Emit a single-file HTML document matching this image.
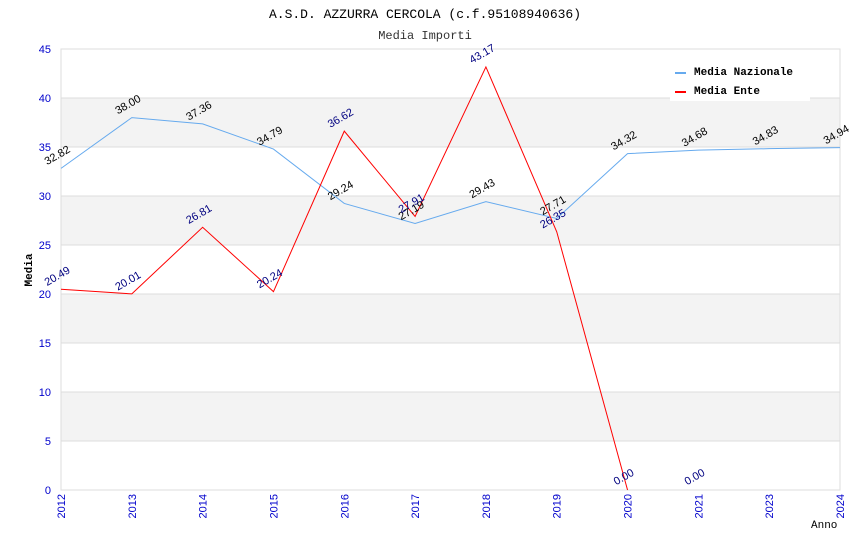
<!DOCTYPE html>
<html><head><meta charset="utf-8"><style>
body{margin:0;background:#fff;}
svg{display:block;font-family:"Liberation Mono","DejaVu Sans Mono",monospace;}
.s{font-family:"Liberation Sans","DejaVu Sans",sans-serif;}
</style></head><body>
<svg id="chart" width="850" height="550" xmlns="http://www.w3.org/2000/svg">
<text x="425" y="18" text-anchor="middle" font-size="13" fill="#000">A.S.D. AZZURRA CERCOLA (c.f.95108940636)</text>
<text x="425" y="39" text-anchor="middle" font-size="12" fill="#333">Media Importi</text>
<g id="bands"></g><g id="grid"></g><g id="axes"></g><g id="series"></g><g id="labels"></g>
<rect x="670" y="50" width="140" height="51" fill="#fff"/>
<line x1="675" y1="73" x2="686" y2="73" stroke="#66aaee" stroke-width="2"/>
<text x="694" y="75" font-size="11" font-weight="bold">Media Nazionale</text>
<line x1="675" y1="92" x2="686" y2="92" stroke="#ff0000" stroke-width="2"/>
<text x="694" y="94" font-size="11" font-weight="bold">Media Ente</text>
<text x="32" y="270" font-size="11" font-weight="bold" transform="rotate(-90 32 270)" text-anchor="middle">Media</text>
<text x="811" y="528" font-size="11">Anno</text>
</svg>
<script>
const categories=["2012","2013","2014","2015","2016","2017","2018","2019","2020","2021","2023","2024"];
const nazionale=[32.82,38.00,37.36,34.79,29.24,27.19,29.43,27.71,34.32,34.68,34.83,34.94];
const ente=[20.49,20.01,26.81,20.24,36.62,27.91,43.17,26.35,0.00];
const enteExtraLabels=[[9,0.00]];
const yTicks=[0,5,10,15,20,25,30,35,40,45];
const NS="http://www.w3.org/2000/svg";
const L=61,R=840,T=49,B=490,YMAX=45;
const xs=i=>L+i*(R-L)/(categories.length-1);
const ys=v=>B-v*(B-T)/YMAX;
function mk(tag,attrs,parent,text){const e=document.createElementNS(NS,tag);for(const k in attrs)e.setAttribute(k,attrs[k]);if(text!==undefined)e.textContent=text;document.getElementById(parent).appendChild(e);return e;}
for(let i=0;i<yTicks.length-1;i++){
  if(i%2===1){const r=mk('rect',{x:L,y:ys(yTicks[i+1]),width:R-L,height:ys(yTicks[i])-ys(yTicks[i+1]),fill:'#f3f3f3'},'bands');
  
  }
}
yTicks.forEach(v=>{
  const g=mk('line',{x1:L,x2:R,y1:ys(v),y2:ys(v),stroke:'#dddddd'},'grid');
  
  
  const t=mk('text',{x:L-10,y:ys(v)+4,'text-anchor':'end','font-size':11,fill:'#0000cc',class:'s'},'axes',String(v));
  
  
});
const border=mk('rect',{x:L,y:T,width:R-L,height:B-T,fill:'none',stroke:'#dddddd'},'axes');


categories.forEach((c,i)=>{
  const x=xs(i);
  const t=mk('text',{x:x+4,y:B+4,'text-anchor':'end','font-size':11,fill:'#0000cc',class:'s',transform:`rotate(-90 ${x+4} ${B+4})`},'axes',c);
  
  
});
function series(vals,color,name,lblColor){
  const p=mk('polyline',{points:vals.map((v,i)=>xs(i)+','+ys(v)).join(' '),fill:'none',stroke:color,'stroke-width':1},'series');
  
  
  vals.forEach((v,i)=>lbl(i,v,lblColor,name));
}
function lbl(i,v,c,name){
  const x=xs(i)-2,y=ys(v)-10;
  const t=mk('text',{x:x,y:y,'font-size':11,fill:c,class:'s','text-anchor':'middle',transform:`rotate(-30 ${x} ${y})`},'labels',v.toFixed(2));
  
  
}
series(nazionale,'#66aaee','nazionale','#000');
series(ente,'#ff0000','ente','#000080');
enteExtraLabels.forEach(([i,v])=>lbl(i,v,'#000080','ente'));
</script>
</body></html>
